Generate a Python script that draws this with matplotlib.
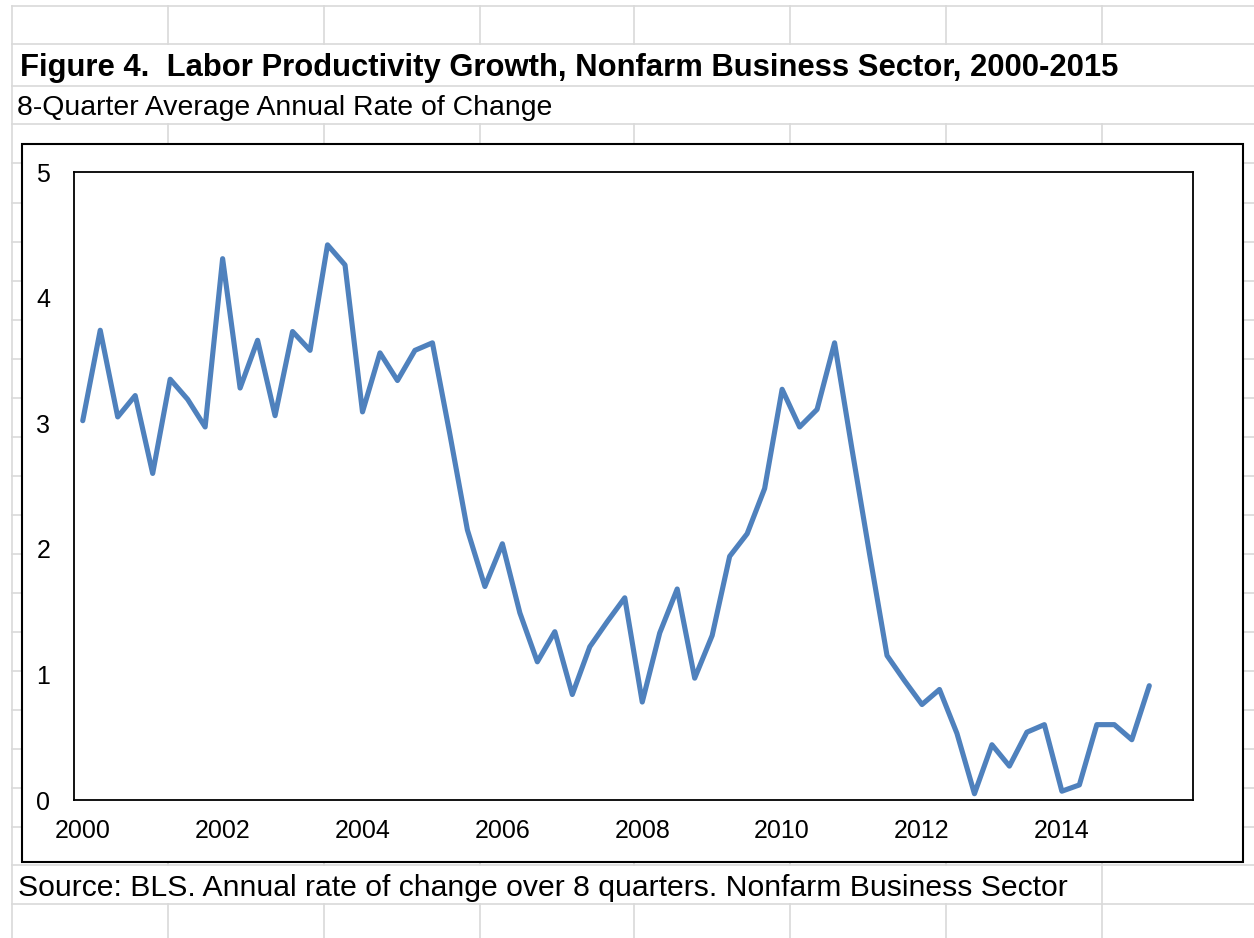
import matplotlib.pyplot as plt
from matplotlib.patches import Rectangle

plt.rcParams['font.family'] = ['Liberation Sans', 'DejaVu Sans']

# quarterly labor productivity, 8-quarter average annual rate of change, 2000Q1-2015Q2
productivity = [
    3.02, 3.74, 3.05, 3.22, 2.60, 3.35, 3.19, 2.97,   # 2000-2001
    4.31, 3.28, 3.66, 3.06, 3.73, 3.58, 4.42, 4.26,   # 2002-2003
    3.09, 3.56, 3.34, 3.58, 3.64, 2.91, 2.15, 1.70,   # 2004-2005
    2.04, 1.49, 1.10, 1.34, 0.84, 1.22, 1.42, 1.61,   # 2006-2007
    0.78, 1.33, 1.68, 0.97, 1.31, 1.94, 2.12, 2.48,   # 2008-2009
    3.27, 2.97, 3.11, 3.64, 2.79, 1.96, 1.15, 0.95,   # 2010-2011
    0.76, 0.88, 0.53, 0.05, 0.44, 0.27, 0.54, 0.60,   # 2012-2013
    0.07, 0.12, 0.60, 0.60, 0.48, 0.91,               # 2014-2015
]
year_labels = ['2000', '2002', '2004', '2006', '2008', '2010', '2012', '2014']
n_slots = 64  # 2000Q1 .. 2015Q4 on the category axis

W, H = 1254, 938
fig = plt.figure(figsize=(W / 100, H / 100), dpi=100)

# spreadsheet backdrop, drawn in pixel units
bg = fig.add_axes([0, 0, 1, 1])
bg.set_xlim(0, W)
bg.set_ylim(H, 0)
bg.axis('off')

grid_color = '#d9d9d9'
rows = [6, 44, 86, 124, 163, 203, 242, 281, 320, 359, 398, 437, 476, 515,
        554, 593, 632, 671, 710, 749, 788, 827, 865, 904]
cols = [168, 324, 480, 634, 790, 946, 1102]
for y in rows:
    bg.plot([12, W], [y, y], color=grid_color, lw=1.2, zorder=0)
bg.plot([12, 12], [6, H], color=grid_color, lw=1.2, zorder=0)
for x in cols:
    # title and subtitle rows carry no column lines
    bg.plot([x, x], [6, 44], color=grid_color, lw=1.2, zorder=0)
    if x < 1066:
        # source text spills across these cells
        bg.plot([x, x], [124, 865], color=grid_color, lw=1.2, zorder=0)
        bg.plot([x, x], [904, H], color=grid_color, lw=1.2, zorder=0)
    else:
        bg.plot([x, x], [124, H], color=grid_color, lw=1.2, zorder=0)

# chart area
bg.add_patch(Rectangle((22, 144), 1243 - 22, 862 - 144, facecolor='white',
                       edgecolor='black', lw=1.5, zorder=2))

bg.text(20, 76, 'Figure 4.  Labor Productivity Growth, Nonfarm Business Sector, 2000-2015',
        fontsize=22.3, fontweight='bold', ha='left', va='baseline', zorder=3)
bg.text(17, 115, '8-Quarter Average Annual Rate of Change',
        fontsize=20.4, ha='left', va='baseline', zorder=3)
bg.text(18, 896, 'Source: BLS. Annual rate of change over 8 quarters. Nonfarm Business Sector',
        fontsize=21.7, ha='left', va='baseline', zorder=3)

# plot area
left, right, top, bottom = 74, 1193, 172, 800
ax = fig.add_axes([left / W, (H - bottom) / H, (right - left) / W, (bottom - top) / H])
ax.set_zorder(5)
ax.plot(range(len(productivity)), productivity, color='#4f81bd', lw=3.7,
        solid_joinstyle='round', solid_capstyle='round')
ax.set_xlim(-0.5, n_slots - 0.5)
ax.set_ylim(0, 5)
ax.set_yticks(range(6))
ax.set_xticks(range(0, 57, 8))
ax.set_xticklabels(year_labels)
ax.tick_params(axis='both', length=0, labelsize=18)
ax.tick_params(axis='x', pad=14)
ax.tick_params(axis='y', pad=17)
for s in ax.spines.values():
    s.set_linewidth(1.3)
    s.set_color('black')

fig.savefig('out.png', dpi=100)
